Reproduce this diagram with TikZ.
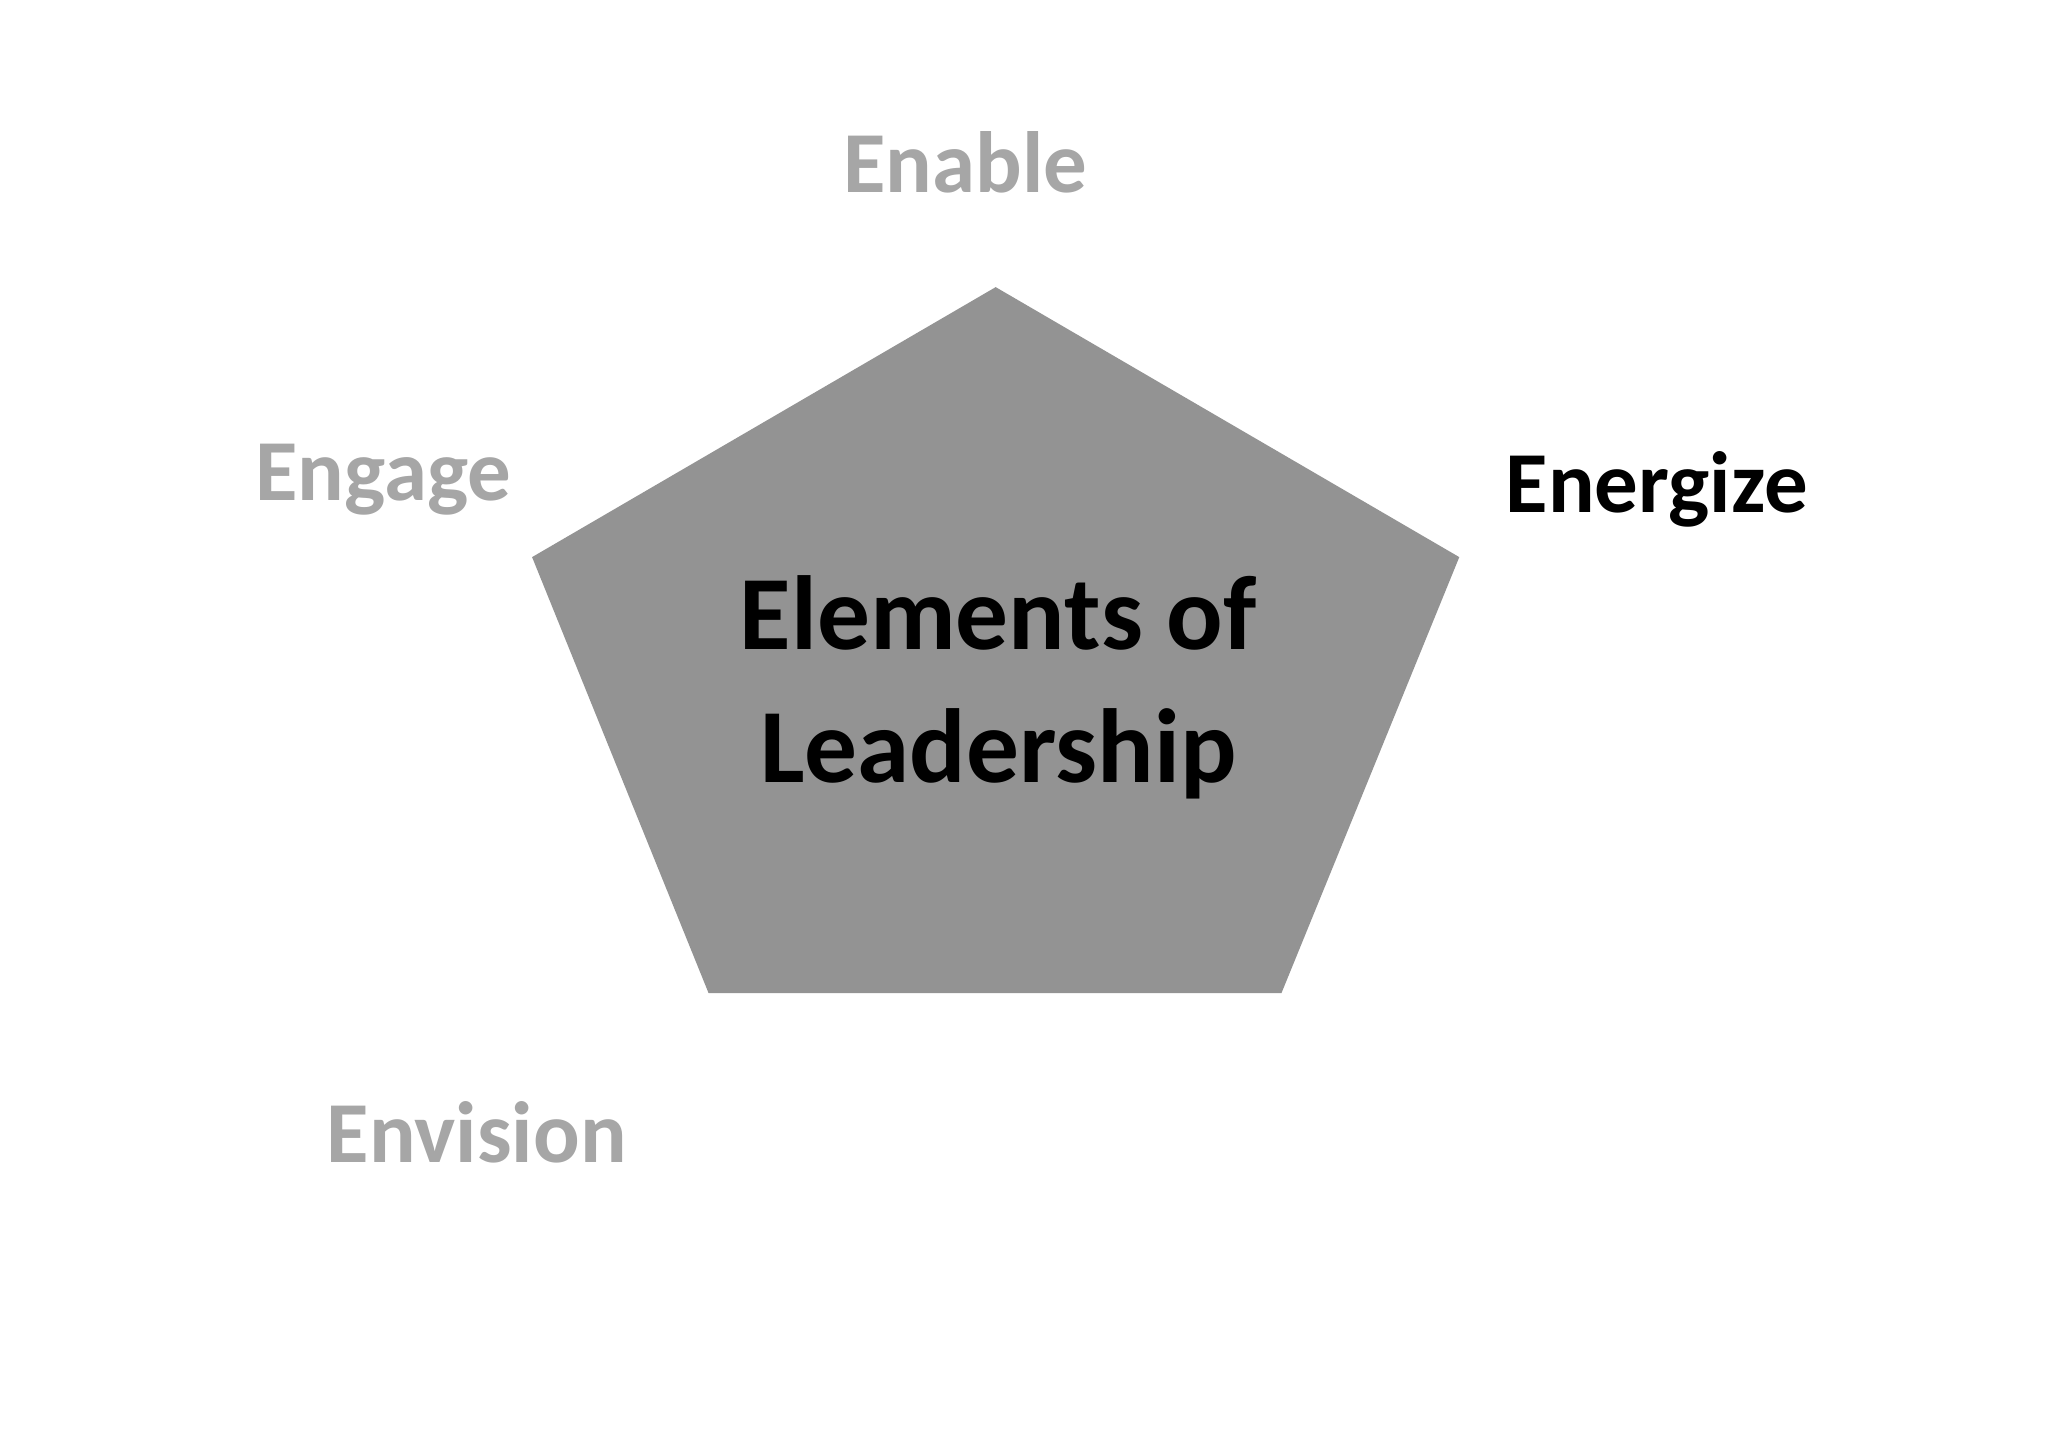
\documentclass[tikz,border=0pt]{standalone}
\usepackage{fontspec}
\setmainfont{Carlito}
\definecolor{pent}{HTML}{939393}
\definecolor{lbl}{HTML}{A6A6A6}
\begin{document}
\begin{tikzpicture}[x=0.5pt,y=-0.5pt,
  lab/.style={anchor=base,font=\bfseries\fontsize{33}{40}\selectfont,text=lbl,inner sep=0pt},
  ttl/.style={anchor=base,font=\bfseries\fontsize{40}{50}\selectfont,text=black,inner sep=0pt}]
\useasboundingbox (0,0) rectangle (1555,1099);
\fill[pent] (756,218) -- (1108,423) -- (973,754) -- (538,754) -- (404,423) -- cycle;
\node[ttl] (t1) at (758,493) {Elements of};
\node[ttl] (t2) at (758,594) {Leadership};
\node[lab] (enable) at (733,146) {Enable};
\node[lab] (engage) at (291,380) {Engage};
\node[lab,text=black] (energize) at (1258,389) {Energize};
\node[lab] (envision) at (362,883) {Envision};
\end{tikzpicture}
\end{document}
